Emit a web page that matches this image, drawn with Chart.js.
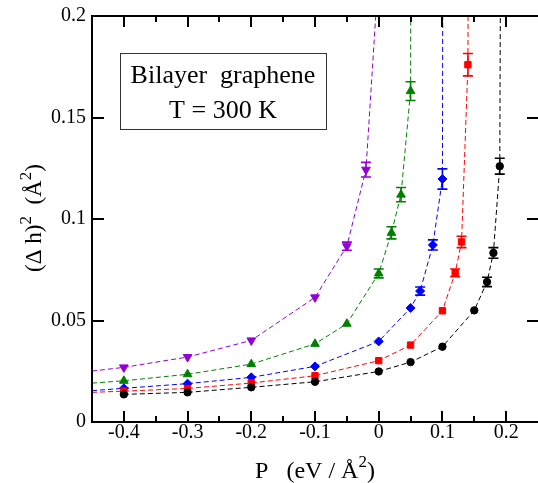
<!DOCTYPE html>
<html>
<head>
<meta charset="utf-8">
<script src="https://cdn.jsdelivr.net/npm/chart.js@4.4.0/dist/chart.umd.min.js"></script>
<style>
    html, body { margin: 0; padding: 0; background: #fff; overflow: hidden; }
    canvas { display: block; }
</style>
</head>
<body>
<canvas id="myChart" width="538" height="483"></canvas>
<script>
// P (eV/Å^2) against (Δh)^2 (Å^2), one pair of arrays per curve, plus error bars
const blackP   = [-0.4, -0.3, -0.2, -0.1, 0, 0.05, 0.1, 0.15, 0.17, 0.18, 0.19, 0.192];
const blackH2  = [0.0136, 0.0146, 0.0171, 0.0198, 0.0249, 0.0295, 0.0371, 0.055, 0.069, 0.0833, 0.126, 0.3];
const blackErr = [0, 0, 0, 0, 0, 0, 0, 0, 0.0023, 0.0026, 0.0039, 0];

const redP   = [-0.5, -0.4, -0.3, -0.2, -0.1, 0, 0.05, 0.1, 0.12, 0.13, 0.14, 0.141];
const redH2  = [0.0140, 0.0152, 0.0165, 0.0192, 0.0228, 0.0302, 0.0379, 0.0548, 0.0735, 0.0887, 0.176, 0.3];
const redErr = [0, 0, 0, 0, 0, 0, 0, 0, 0.0019, 0.0028, 0.0055, 0];

const blueP   = [-0.5, -0.4, -0.3, -0.2, -0.1, 0, 0.05, 0.065, 0.085, 0.1, 0.101];
const blueH2  = [0.0143, 0.0166, 0.0189, 0.022, 0.0274, 0.0397, 0.0562, 0.0645, 0.0872, 0.1197, 0.3];
const blueErr = [0, 0, 0, 0, 0, 0, 0, 0.002, 0.0025, 0.005, 0];

const greenP   = [-0.5, -0.4, -0.3, -0.2, -0.1, -0.05, 0, 0.02, 0.035, 0.05, 0.051];
const greenH2  = [0.018, 0.0203, 0.0235, 0.0285, 0.0385, 0.0484, 0.0732, 0.0932, 0.112, 0.163, 0.3];
const greenErr = [0, 0, 0, 0, 0, 0, 0.0022, 0.003, 0.0035, 0.0046, 0];

const purpleP   = [-0.5, -0.4, -0.3, -0.2, -0.1, -0.05, -0.02, 0];
const purpleH2  = [0.0233, 0.0269, 0.032, 0.0402, 0.0614, 0.0866, 0.1243, 0.223];
const purpleErr = [0, 0, 0, 0, 0, 0.002, 0.0036, 0];

const xTickValues = [-0.4, -0.3, -0.2, -0.1, 0, 0.1, 0.2];
const xTickLabels = ['-0.4', '-0.3', '-0.2', '-0.1', '0', '0.1', '0.2'];
const xMinorTicks = [-0.35, -0.25, -0.15, -0.05, 0.05, 0.15];
const yTickValues = [0, 0.05, 0.1, 0.15, 0.2];
const yTickLabels = ['0', '0.05', '0.1', '0.15', '0.2'];

const boxLines = ['Bilayer  graphene', 'T = 300 K'];
const xTitle = [{ t: 'P   (eV / Å' }, { t: '2', sup: true }, { t: ')' }];
const yTitle = [{ t: '(Δ h)' }, { t: '2', sup: true }, { t: '  (Å' }, { t: '2', sup: true }, { t: ')' }];

const serif = "'Liberation Serif', 'Times New Roman', serif";

function toPoints(xs, ys) {
    return xs.map((x, i) => ({ x: x, y: ys[i] }));
}

function curve(xs, ys, color, style, radius, rotation) {
    return {
        data: toPoints(xs, ys),
        showLine: true,
        borderColor: color,
        backgroundColor: color,
        borderWidth: 1,
        borderDash: [5, 3],
        pointStyle: style,
        pointRadius: radius,
        pointRotation: rotation || 0,
        pointBorderWidth: 1,
        tension: 0
    };
}

const errorSets = [blackErr, redErr, blueErr, greenErr, purpleErr];

// text with superscripts, centred on x, baseline y
function drawRich(ctx, parts, x, y, size) {
    const supSize = Math.round(size * 0.72);
    let total = 0;
    parts.forEach(p => {
        ctx.font = (p.sup ? supSize : size) + 'px ' + serif;
        p.w = ctx.measureText(p.t).width;
        total += p.w;
    });
    let cx = x - total / 2;
    ctx.textAlign = 'left';
    ctx.textBaseline = 'alphabetic';
    parts.forEach(p => {
        ctx.font = (p.sup ? supSize : size) + 'px ' + serif;
        ctx.fillText(p.t, cx, p.sup ? y - size * 0.45 : y);
        cx += p.w;
    });
}

const decorations = {
    id: 'decorations',
    afterDatasetsDraw(chart) {
        const ctx = chart.ctx;
        const xs = chart.scales.x, ys = chart.scales.y;
        const area = chart.chartArea;
        ctx.save();
        ctx.beginPath();
        ctx.rect(area.left, area.top, area.right - area.left, area.bottom - area.top);
        ctx.clip();
        chart.data.datasets.forEach((ds, i) => {
            const errs = errorSets[i];
            ctx.strokeStyle = ds.borderColor;
            ctx.lineWidth = 1.6;
            ds.data.forEach((pt, j) => {
                if (!errs[j]) return;
                const px = xs.getPixelForValue(pt.x);
                const top = ys.getPixelForValue(pt.y + errs[j]);
                const bot = ys.getPixelForValue(pt.y - errs[j]);
                ctx.beginPath();
                ctx.moveTo(px, top); ctx.lineTo(px, bot);
                ctx.moveTo(px - 5, top); ctx.lineTo(px + 5, top);
                ctx.moveTo(px - 5, bot); ctx.lineTo(px + 5, bot);
                ctx.stroke();
            });
        });
        ctx.restore();
    },
    afterDraw(chart) {
        const ctx = chart.ctx;
        const xs = chart.scales.x, ys = chart.scales.y;
        const a = chart.chartArea;
        ctx.save();
        ctx.strokeStyle = '#000';
        ctx.lineWidth = 2;
        // frame (right side falls just off the canvas)
        ctx.beginPath();
        ctx.moveTo(a.right + 2, a.top); ctx.lineTo(a.left, a.top);
        ctx.lineTo(a.left, a.bottom); ctx.lineTo(a.right + 2, a.bottom);
        ctx.stroke();
        // inward ticks
        ctx.beginPath();
        xTickValues.forEach(v => {
            const px = Math.round(xs.getPixelForValue(v));
            ctx.moveTo(px, a.bottom); ctx.lineTo(px, a.bottom - 11);
            ctx.moveTo(px, a.top); ctx.lineTo(px, a.top + 11);
        });
        xMinorTicks.forEach(v => {
            const px = Math.round(xs.getPixelForValue(v));
            ctx.moveTo(px, a.bottom); ctx.lineTo(px, a.bottom - 6);
            ctx.moveTo(px, a.top); ctx.lineTo(px, a.top + 6);
        });
        yTickValues.forEach(v => {
            const py = Math.round(ys.getPixelForValue(v));
            ctx.moveTo(a.left, py); ctx.lineTo(a.left + 12, py);
            ctx.moveTo(a.right, py); ctx.lineTo(a.right - 11, py);
        });
        ctx.stroke();

        // label box
        ctx.fillStyle = '#fff';
        ctx.fillRect(120, 53, 206, 76);
        ctx.strokeStyle = '#333';
        ctx.lineWidth = 1;
        ctx.strokeRect(120.5, 53.5, 206, 76);
        ctx.fillStyle = '#000';
        ctx.font = '26px ' + serif;
        ctx.textAlign = 'center';
        ctx.textBaseline = 'alphabetic';
        ctx.fillText(boxLines[0], 223, 83);
        ctx.fillText(boxLines[1], 223, 118);

        // axis titles
        drawRich(ctx, xTitle, 315, 478, 24);
        ctx.translate(41, 218);
        ctx.rotate(-Math.PI / 2);
        drawRich(ctx, yTitle, 0, 0, 23);
        ctx.restore();
    }
};

const ctx = document.getElementById('myChart');

new Chart(ctx, {
    type: 'scatter',
    data: {
        datasets: [
            curve(blackP, blackH2, '#000000', 'circle', 3.7),
            curve(redP, redH2, '#ff0000', 'rect', 4.5),
            curve(blueP, blueH2, '#0000ff', 'rectRot', 4.5),
            curve(greenP, greenH2, '#008000', 'triangle', 5),
            curve(purpleP, purpleH2, '#9400d3', 'triangle', 5, 180)
        ]
    },
    options: {
        responsive: false,
        animation: false,
        devicePixelRatio: 1,
        layout: { autoPadding: false, padding: { top: 16, right: 0, left: 0, bottom: 0 } },
        plugins: {
            legend: { display: false },
            tooltip: { enabled: false }
        },
        scales: {
            x: {
                type: 'linear',
                min: -0.45,
                max: 0.25,
                afterBuildTicks: s => { s.ticks = xTickValues.map(v => ({ value: v })); },
                afterFit: s => { s.height = 61; s.paddingLeft = 0; s.paddingRight = 0; },
                grid: { display: false, drawTicks: false },
                border: { display: false },
                ticks: {
                    callback: (v, i) => xTickLabels[i],
                    font: { family: serif, size: 20 },
                    color: '#000',
                    padding: -1,
                    maxRotation: 0,
                    autoSkip: false
                }
            },
            y: {
                type: 'linear',
                min: 0,
                max: 0.2,
                afterBuildTicks: s => { s.ticks = yTickValues.map(v => ({ value: v })); },
                afterFit: s => { s.width = 92; s.paddingTop = 0; s.paddingBottom = 0; },
                grid: { display: false, drawTicks: false },
                border: { display: false },
                ticks: {
                    callback: (v, i) => yTickLabels[i],
                    font: { family: serif, size: 20 },
                    color: '#000',
                    padding: 6,
                    autoSkip: false
                }
            }
        }
    },
    plugins: [decorations]
});
</script>
</body>
</html>
